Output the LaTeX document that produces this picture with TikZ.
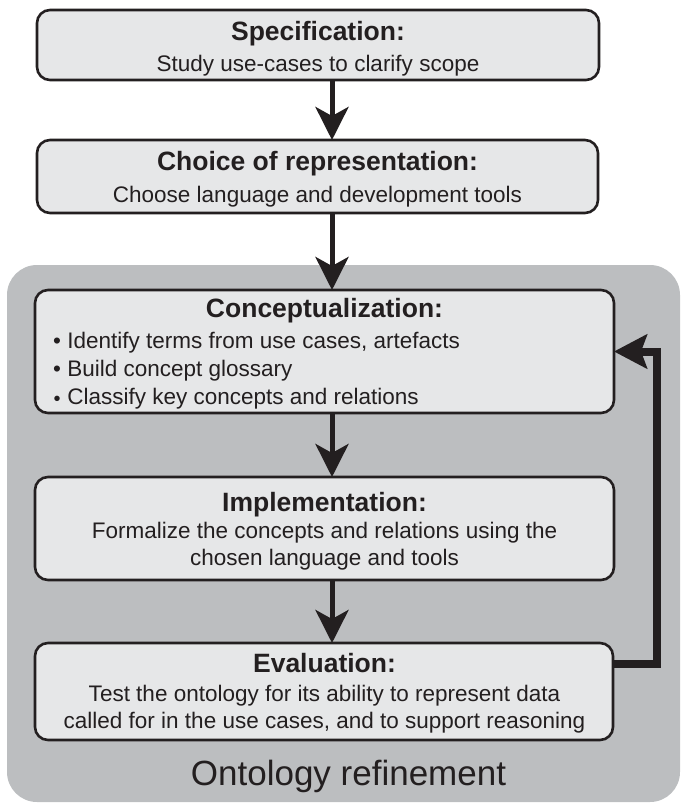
\documentclass[tikz,border=0pt]{standalone}
\usepackage{fontspec}
\setmainfont{Liberation Sans}
\usetikzlibrary{arrows.meta,calc}
\definecolor{ink}{HTML}{231F20}
\definecolor{boxfill}{HTML}{E6E7E8}
\definecolor{panelfill}{HTML}{BCBEC0}
\begin{document}
\begin{tikzpicture}[x=1pt,y=-1pt,
  box/.style={draw=ink,line width=2.6pt,fill=boxfill,rounded corners=13pt,inner sep=0pt,outer sep=0pt},
  ttl/.style={font=\fontsize{26.5}{30}\selectfont\bfseries,text=ink,inner sep=0pt,anchor=base},
  txt/.style={font=\fontsize{22.5}{27}\selectfont,text=ink,inner sep=0pt,anchor=base},
  bul/.style={txt,anchor=base west},
  flow/.style={draw=ink,line width=5pt,-{Stealth[length=33pt,width=33pt,inset=9pt]}},
  back/.style={draw=ink,line width=8pt,line join=miter,-{Stealth[length=33pt,width=34pt,inset=6pt]}},
]
\useasboundingbox (0,0) rectangle (681,803);
% panel
\node[fill=panelfill,rounded corners=30pt,minimum width=673pt,minimum height=537pt,inner sep=0pt,outer sep=0pt] (panel) at (343.5,533.5) {};
% boxes
\node[box,minimum width=562pt,minimum height=70pt] (spec) at (318,45) {};
\node[box,minimum width=561pt,minimum height=73pt] (choice) at (317.5,176.5) {};
\node[box,minimum width=579pt,minimum height=123pt] (concept) at (324.5,351.5) {};
\node[box,minimum width=579pt,minimum height=103pt] (impl) at (324.5,528.5) {};
\node[box,minimum width=578pt,minimum height=97pt] (eval) at (324,691.5) {};
% texts
\node[ttl] (specT) at (318,40) {Specification:};
\node[txt] (specS) at (318,71.7) {Study use-cases to clarify scope};
\node[ttl] (choiceT) at (317.5,170) {Choice of representation:};
\node[txt] (choiceS) at (317.5,202) {Choose language and development tools};
\node[ttl] (conceptT) at (324.5,317.3) {Conceptualization:};
\node[bul] (b1) at (53,348) {• Identify terms from use cases, artefacts};
\node[bul] (b2) at (53,376.5) {• Build concept glossary};
\node[bul] (b3) at (53,404) {\makebox[7.9pt][c]{\raisebox{-1.5pt}{\fontsize{20}{20}\selectfont •}} Classify key concepts and relations};
\node[ttl] (implT) at (324.5,511.7) {Implementation:};
\node[txt] (implS1) at (324.5,538.3) {Formalize the concepts and relations using the};
\node[txt] (implS2) at (324.5,565.7) {chosen language and tools};
\node[ttl] (evalT) at (324.5,672.7) {Evaluation:};
\node[txt] (evalS1) at (324.5,701.7) {Test the ontology for its ability to represent data};
\node[txt] (evalS2) at (324.5,728.3) {called for in the use cases, and to support reasoning};
\node[font=\fontsize{35}{40}\selectfont,text=ink,inner sep=0pt,anchor=base] (panelT) at (348.5,785) {Ontology refinement};
% arrows
\coordinate (ax) at (332,0);
\draw[flow] (spec.south -| ax) -- (choice.north -| ax);
\draw[flow] (choice.south -| ax) -- (concept.north -| ax);
\draw[flow] (concept.south -| ax) -- (impl.north -| ax);
\draw[flow] (impl.south -| ax) -- (eval.north -| ax);
% feedback
\coordinate (fx) at (657,0);
\coordinate (e1) at ([yshift=27.5pt]eval.east);
\draw[back] (e1) -- (e1 -| fx) -- (fx |- concept.east) -- (concept.east);
\end{tikzpicture}
\end{document}
